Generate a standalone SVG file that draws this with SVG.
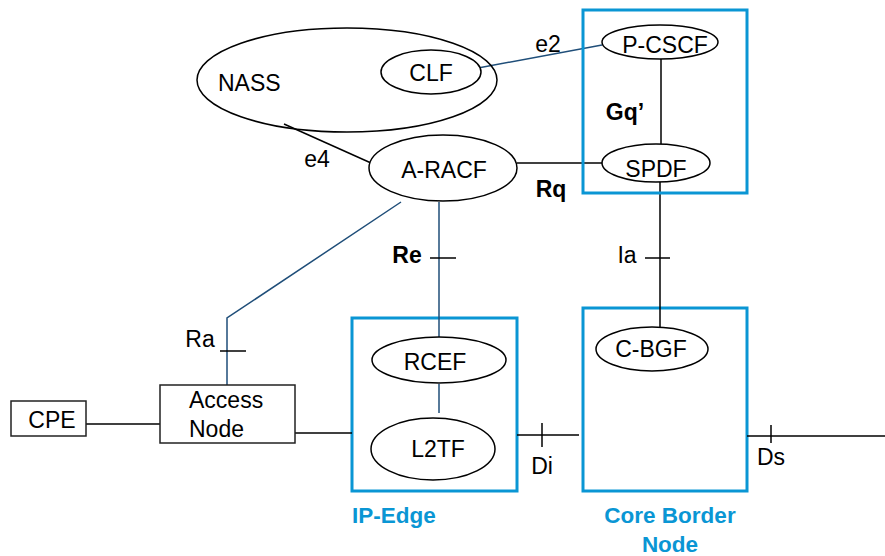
<svg xmlns="http://www.w3.org/2000/svg" width="885" height="556" viewBox="0 0 885 556">
<style>
text{font-family:"Liberation Sans",Arial,sans-serif;font-size:23px;fill:#000}
.b{font-weight:bold}
.blue{fill:#0a96d4;font-weight:bold;font-size:22.5px}
.c{text-anchor:middle}
.el{fill:#fff;stroke:#000;stroke-width:1.5}
.box{fill:none;stroke:#0a96d4;stroke-width:3}
.rect{fill:#fff;stroke:#222;stroke-width:1.5}
.k{stroke:#000;stroke-width:1.5;fill:none}
.n{stroke:#1f4e79;stroke-width:1.5;fill:none}
</style>
<rect width="885" height="556" fill="#fff"/>
<g id="ip-edge-box"><rect class="box" x="352" y="318" width="165" height="173"/><text class="blue" x="352" y="523">IP-Edge</text></g>
<g id="core-border-box"><rect class="box" x="583" y="308" width="164" height="183"/><text class="blue c" x="670" y="523">Core Border</text><text class="blue c" x="670" y="552">Node</text></g>
<g id="connectors">
<line class="n" x1="478" y1="68" x2="602" y2="45"/>
<line class="k" x1="284" y1="124" x2="371" y2="163"/>
<line class="k" x1="517" y1="163" x2="603" y2="163"/>
<line class="k" x1="661" y1="59" x2="661" y2="144"/>
<line class="k" x1="660" y1="182" x2="660" y2="327"/>
<line class="k" x1="645" y1="258" x2="670" y2="258"/>
<line class="n" x1="439" y1="202" x2="439" y2="337"/>
<line class="k" x1="430" y1="258" x2="456" y2="258"/>
<line class="n" x1="439" y1="384" x2="439" y2="413"/>
<polyline class="n" points="401,202 227,318 227,385"/>
<line class="k" x1="220" y1="351" x2="246" y2="351"/>
<line class="k" x1="86" y1="424" x2="160" y2="424"/>
<line class="k" x1="295" y1="433" x2="352" y2="433"/>
<line class="k" x1="517" y1="435" x2="579" y2="435"/>
<line class="k" x1="542" y1="423" x2="542" y2="447"/>
<line class="k" x1="747" y1="436" x2="885" y2="436"/>
<line class="k" x1="771" y1="425" x2="771" y2="443"/>
</g>
<g id="p-cscf-box"><rect class="box" x="583" y="10" width="164" height="183"/></g>
<g id="nass"><ellipse cx="347" cy="80" rx="150" ry="52" fill="none" stroke="#000" stroke-width="1.5"/><text x="218" y="91">NASS</text></g>
<g id="clf"><ellipse class="el" cx="431" cy="72" rx="50" ry="22"/><text class="c" x="431" y="81">CLF</text></g>
<g id="a-racf"><ellipse class="el" cx="443" cy="168" rx="74" ry="33"/><text class="c" x="444" y="178">A-RACF</text></g>
<g id="p-cscf"><ellipse class="el" cx="660" cy="42" rx="58" ry="17"/><text class="c" x="665" y="53">P-CSCF</text></g>
<g id="spdf"><ellipse class="el" cx="656" cy="163" rx="54" ry="19"/><text class="c" x="656" y="177">SPDF</text></g>
<g id="c-bgf"><ellipse class="el" cx="652" cy="349" rx="56" ry="22"/><text class="c" x="651" y="357">C-BGF</text></g>
<g id="rcef"><ellipse class="el" cx="439" cy="360" rx="67" ry="23"/><text class="c" x="435" y="370">RCEF</text></g>
<g id="l2tf"><ellipse class="el" cx="433" cy="449" rx="62" ry="31"/><text class="c" x="438" y="457">L2TF</text></g>
<g id="access-node"><rect class="rect" x="160" y="385" width="135" height="58"/><text x="189" y="408">Access</text><text x="189" y="437">Node</text></g>
<g id="cpe"><rect class="rect" x="11" y="401" width="75" height="35" stroke="#000"/><text class="c" x="52" y="428">CPE</text></g>
<g id="labels">
<text class="c" x="548" y="52">e2</text>
<text class="c" x="317" y="167">e4</text>
<text class="b c" x="551" y="197">Rq</text>
<text class="b c" x="625" y="120">Gq’</text>
<text class="b c" x="407" y="263">Re</text>
<text class="c" x="627" y="263">Ia</text>
<text class="c" x="200" y="347">Ra</text>
<text class="c" x="542" y="474">Di</text>
<text x="757" y="465">Ds</text>
</g>
</svg>
